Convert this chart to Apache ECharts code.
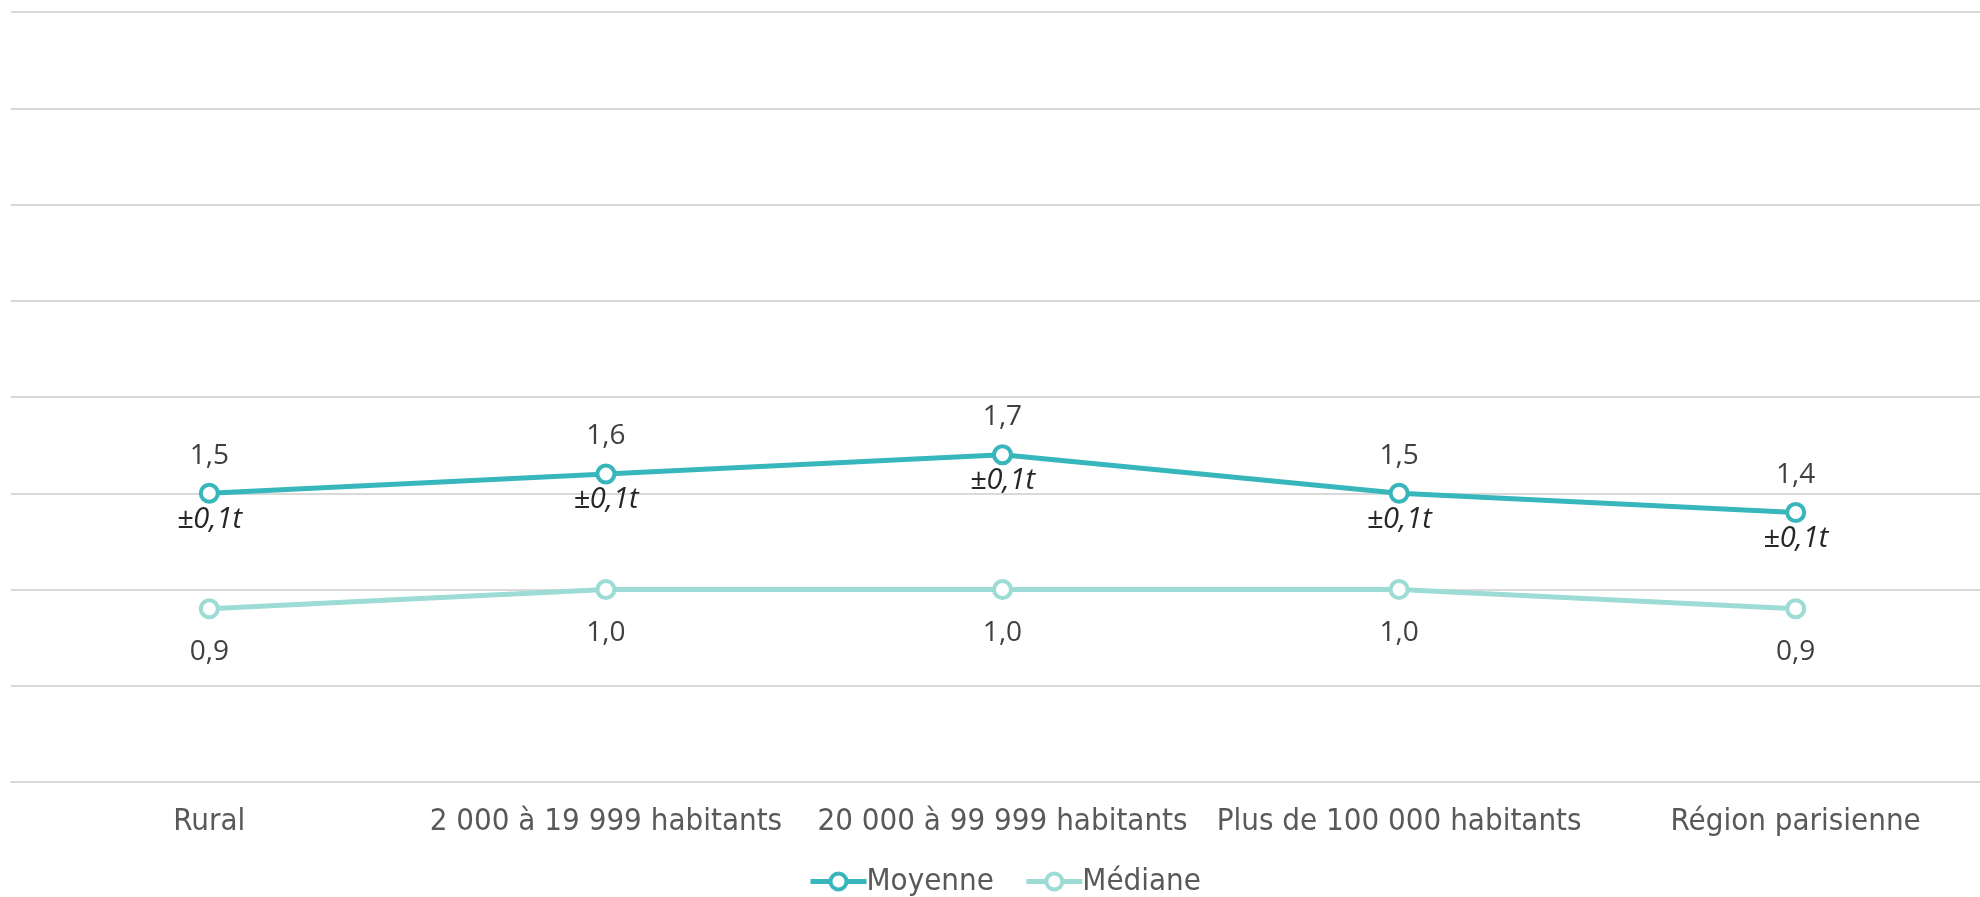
<!DOCTYPE html>
<html>
<head>
<meta charset="utf-8">
<script src="https://cdn.jsdelivr.net/npm/echarts@6/dist/echarts.min.js"></script>
<style>
html,body{margin:0;padding:0;background:#fff;}
#chart{width:1980px;height:897px;}
</style>
</head>
<body>
<div id="chart"></div>
<script>
const categories = ["Rural", "2 000 à 19 999 habitants", "20 000 à 99 999 habitants", "Plus de 100 000 habitants", "Région parisienne"];
const moyenne = [1.5, 1.6, 1.7, 1.5, 1.4];
const mediane = [0.9, 1.0, 1.0, 1.0, 0.9];
const marges = ["±0,1t", "±0,1t", "±0,1t", "±0,1t", "±0,1t"];

const fmt = v => v.toFixed(1).replace('.', ',');
const chart = echarts.init(document.getElementById('chart'));
const C1 = '#37b6bc', C2 = '#9cdcd5';
chart.setOption({
  animation: false,
  backgroundColor: '#fff',
  grid: { left: 11, right: -14, top: 12, bottom: 115, outerBoundsMode: 'none', containLabel: false },
  legend: {
    data: ['Moyenne', 'Médiane'],
    top: 861,
    left: 803,
    itemWidth: 56,
    itemHeight: 20,
    itemGap: 30,
    lineStyle: { width: 5 },
    itemStyle: { borderWidth: 4 },
    textStyle: { fontFamily: 'DejaVu Sans Condensed', fontSize: 31, color: '#595959', padding: [0,0,0,-5] }
  },
  xAxis: {
    type: 'category',
    data: categories,
    boundaryGap: true,
    axisLine: { show: true, lineStyle: { color: '#d9d9d9', width: 2 } },
    axisTick: { show: false },
    axisLabel: { interval: 0, fontFamily: 'DejaVu Sans Condensed', fontSize: 31, color: '#595959', margin: 24 }
  },
  yAxis: {
    type: 'value',
    min: 0, max: 4, interval: 0.5,
    axisLabel: { show: false },
    axisLine: { show: false },
    axisTick: { show: false },
    splitLine: { lineStyle: { color: '#d9d9d9', width: 2 } }
  },
  series: [
    {
      name: 'Médiane', type: 'line', data: mediane,
      symbol: 'circle', symbolSize: 17,
      itemStyle: { color: '#fff', borderColor: C2, borderWidth: 4 },
      lineStyle: { color: C2, width: 5 },
      label: { show: true, position: 'bottom', distance: 19, formatter: p => fmt(p.value),
        fontFamily: 'Open Sans', fontSize: 28, color: '#404040' },
      z: 2
    },
    {
      name: 'Moyenne', type: 'line', data: moyenne,
      symbol: 'circle', symbolSize: 17,
      itemStyle: { color: '#fff', borderColor: C1, borderWidth: 4 },
      lineStyle: { color: C1, width: 5 },
      label: { show: true, position: 'top', distance: 13, formatter: p => fmt(p.value),
        fontFamily: 'Open Sans', fontSize: 28, color: '#404040' },
      z: 3
    },
    {
      name: 'marge', type: 'line', data: moyenne,
      symbol: 'circle', symbolSize: 17, showSymbol: true,
      itemStyle: { color: 'rgba(0,0,0,0)', borderWidth: 0 },
      lineStyle: { width: 0, color: 'rgba(0,0,0,0)' },
      silent: true,
      label: { show: true, position: 'bottom', distance: 3, formatter: p => marges[p.dataIndex],
        fontFamily: 'Open Sans', fontStyle: 'italic', fontSize: 29, color: '#262626' },
      z: 1
    }
  ]
});
</script>
</body>
</html>
